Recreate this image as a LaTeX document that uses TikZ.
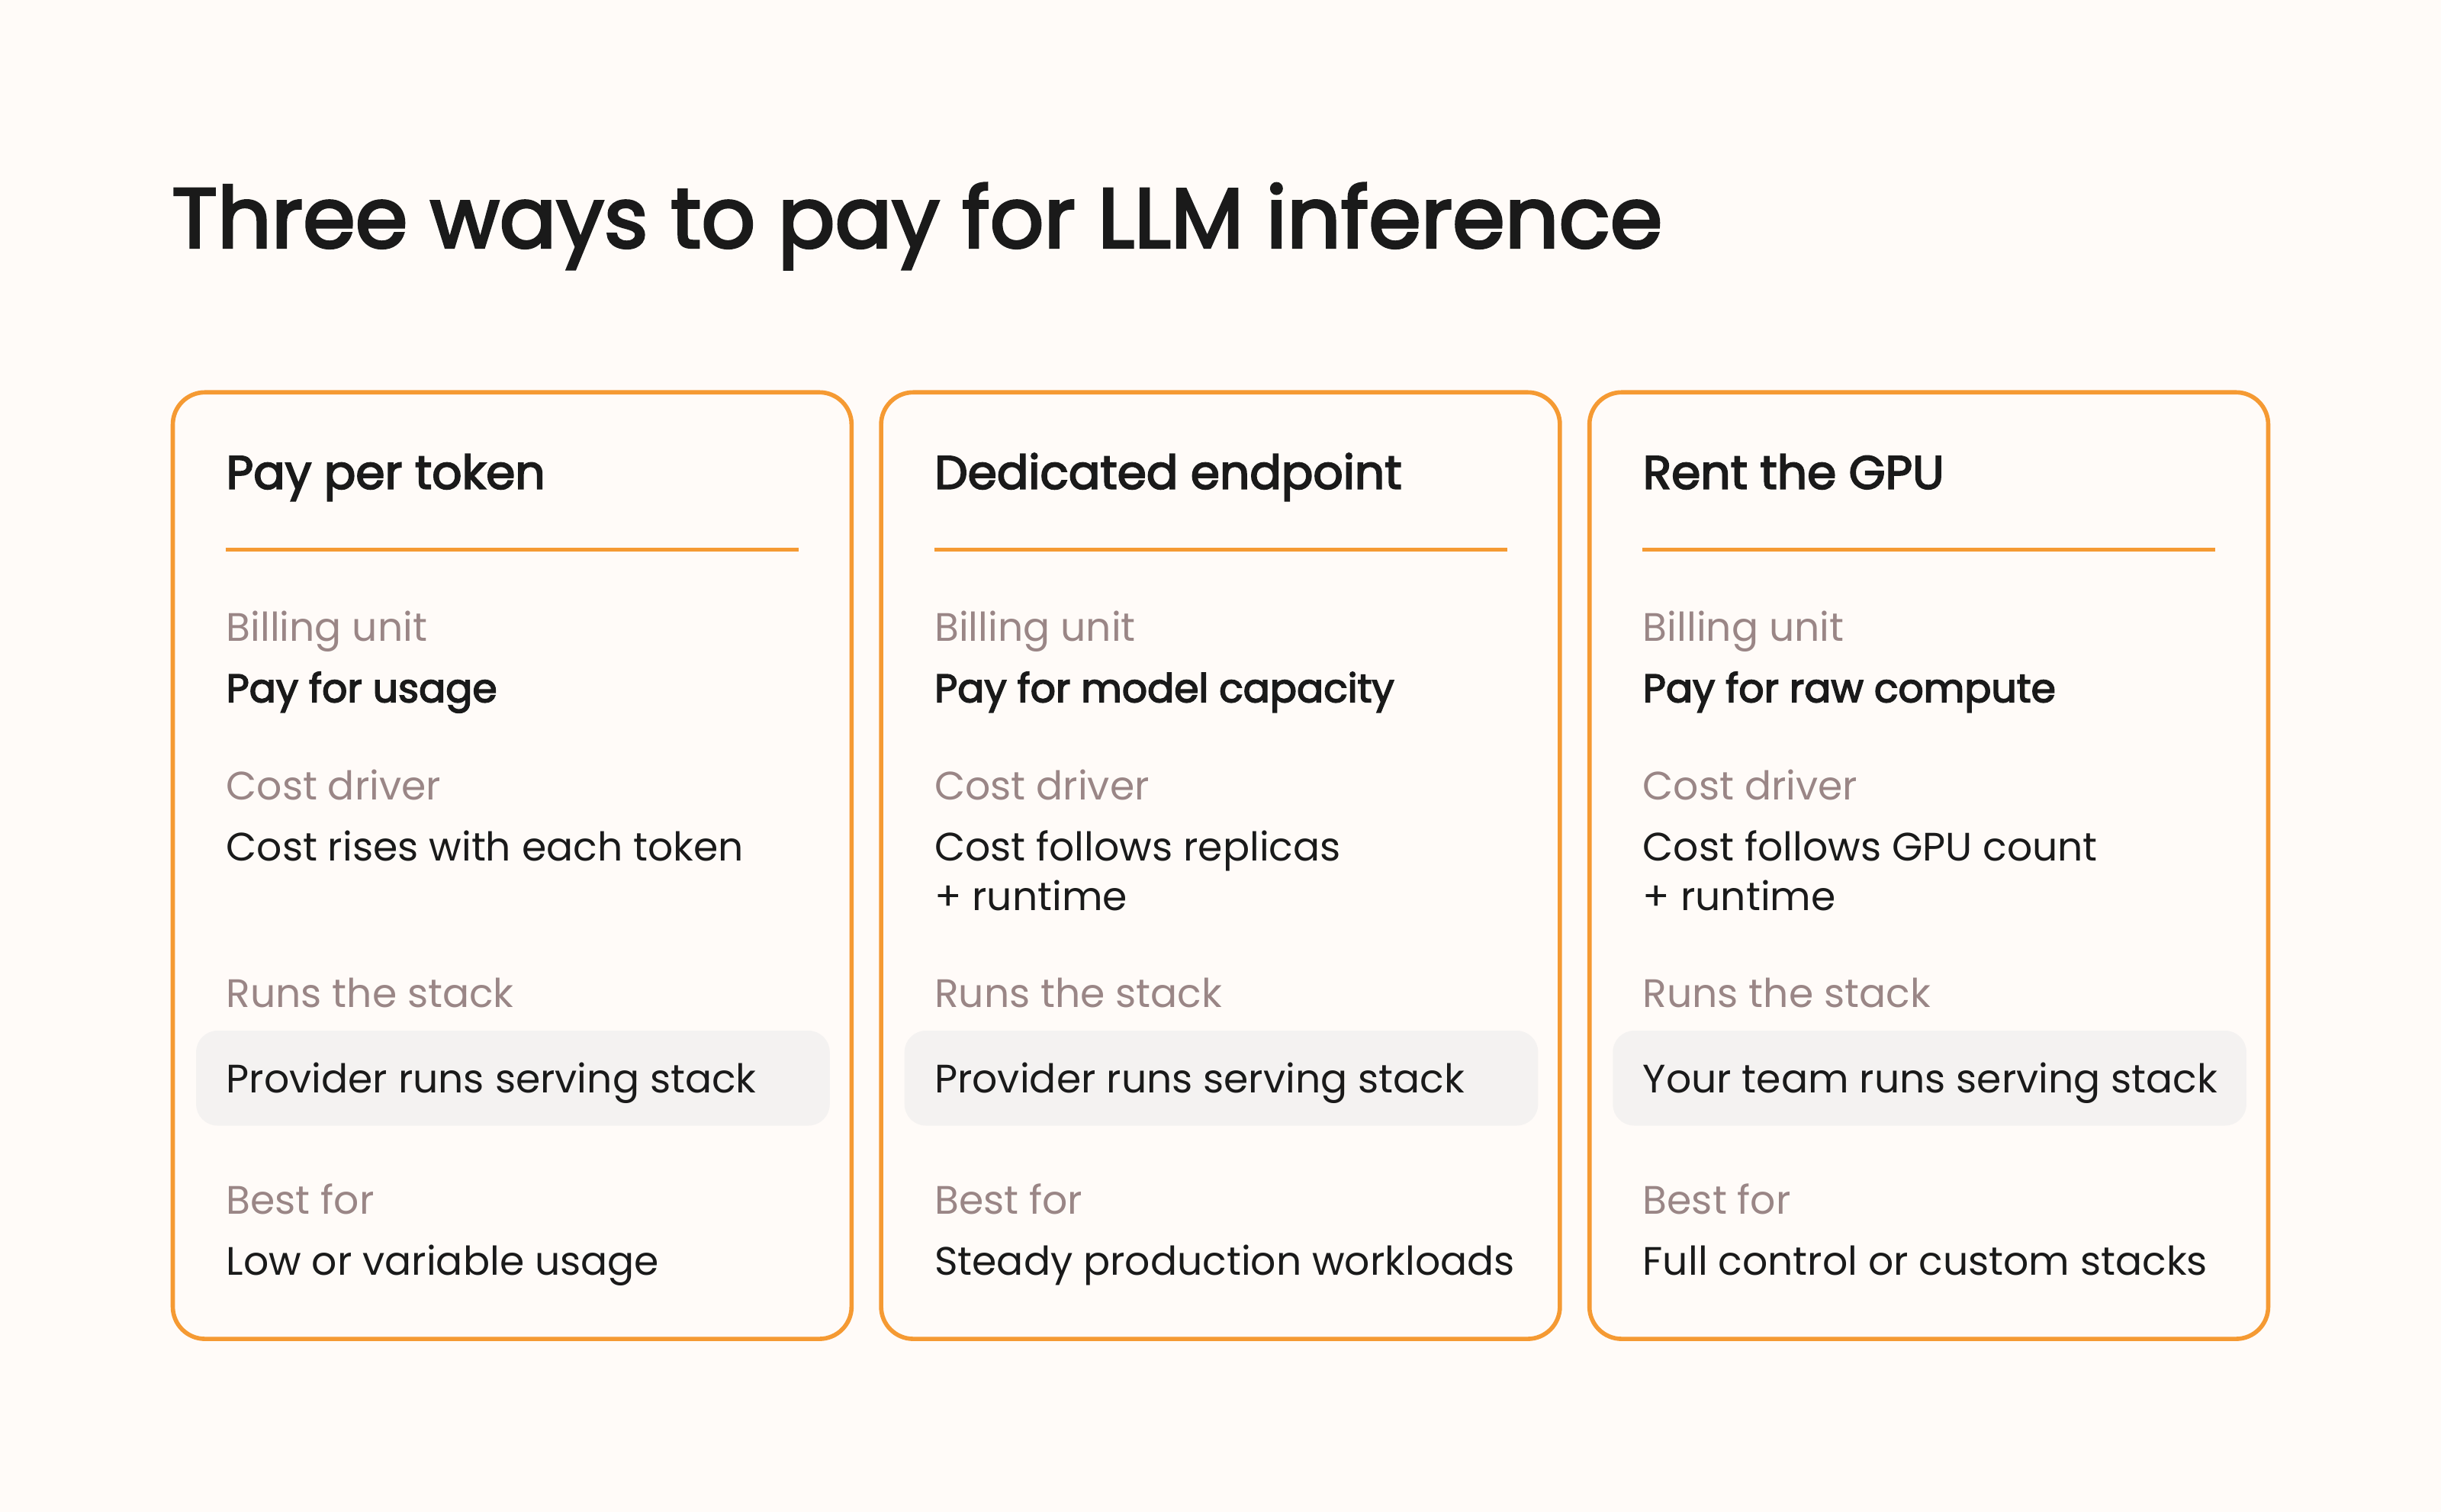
\documentclass[tikz,border=0pt]{standalone}
\usepackage{fontspec}
\setmainfont{Poppins}
\newfontfamily\medf{Poppins}[FakeBold=3]
\definecolor{bg}{HTML}{FFFBF8}
\definecolor{org}{HTML}{F59A33}
\definecolor{lab}{HTML}{9A8686}
\definecolor{txt}{HTML}{1A1A1A}
\definecolor{boxg}{HTML}{F4F2F1}
\begin{document}
\begin{tikzpicture}[x=0.02041cm,y=-0.02041cm,
  card/.style={draw=org,line width=1.6pt,rounded corners=12pt},
  lbl/.style={anchor=base west,inner sep=0,text=lab,font=\fontsize{14.8}{17}\selectfont},
  val/.style={anchor=base west,inner sep=0,text=txt,font=\fontsize{14.8}{17}\selectfont},
  valb/.style={anchor=base west,inner sep=0,text=txt,font=\medf\fontsize{14.8}{17}\selectfont},
  ctitle/.style={anchor=base west,inner sep=0,text=txt,font=\medf\fontsize{17.5}{20}\selectfont},
  gbox/.style={fill=boxg,rounded corners=8pt}]
\fill[bg] (0,0) rectangle (1568,971);
\useasboundingbox (0,0) rectangle (1568,971);
\node[anchor=base west,inner sep=0,text=txt,font=\medf\fontsize{31.5}{36}\selectfont] (title) at (110,159) {Three ways to pay for LLM inference};
\foreach \i/\x/\t/\v/\ca/\cb/\r/\b in {
 1/111/Pay per token/Pay for usage/Cost rises with each token//Provider runs serving stack/Low or variable usage,
 2/566/Dedicated endpoint/Pay for model capacity/Cost follows replicas/+ runtime/Provider runs serving stack/Steady production workloads,
 3/1021/Rent the GPU/Pay for raw compute/Cost follows GPU count/+ runtime/Your team runs serving stack/Full control or custom stacks}{
  \draw[card] (\x,252) rectangle (\x+436,860);
  \node[ctitle] (t\i) at (\x+34,314) {\t};
  \draw[org,line width=1.4pt] (\x+34,353) -- (\x+402,353);
  \node[lbl] (bl\i) at (\x+34,412) {Billing unit};
  \node[valb] (bv\i) at (\x+34,451) {\v};
  \node[lbl] (cl\i) at (\x+34,514) {Cost driver};
  \node[val] (ca\i) at (\x+34,553) {\ca};
  \node[val] (cb\i) at (\x+34,585) {\cb};
  \node[lbl] (rl\i) at (\x+34,647) {Runs the stack};
  \fill[gbox] (\x+15,662) rectangle (\x+422,723);
  \node[val] (rv\i) at (\x+34,702) {\r};
  \node[lbl] (fl\i) at (\x+34,780) {Best for};
  \node[val] (fv\i) at (\x+34,819) {\b};
}
\end{tikzpicture}
\end{document}
